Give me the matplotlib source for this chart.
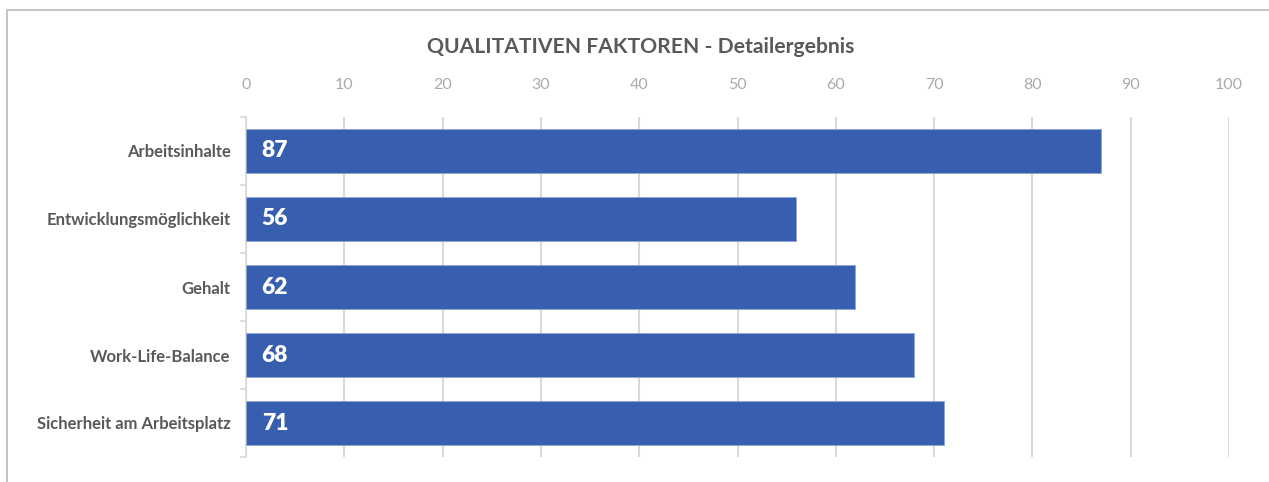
import matplotlib
matplotlib.use("Agg")
import matplotlib.pyplot as plt
from matplotlib.patches import Rectangle
import numpy as np

plt.rcParams['font.family'] = ['Lato', 'DejaVu Sans']

categories = ['Arbeitsinhalte', 'Entwicklungsmöglichkeit', 'Gehalt',
              'Work-Life-Balance', 'Sicherheit am Arbeitsplatz']
values = [87, 56, 62, 68, 71]
xticks = list(range(0, 101, 10))

bar_col = '#385EAF'
grey_txt = '#595959'

fig = plt.figure(figsize=(12.69, 4.82), dpi=100)
# rahmen oben/links
fig.patches.append(Rectangle((7 / 1269, -0.1), 1.2, 1.1 - 10 / 482,
                             transform=fig.transFigure, fill=False,
                             edgecolor='#BFBFBF', lw=1.3, zorder=0))

ax = fig.add_axes([246 / 1269, 1 - 457 / 482, (1229 - 246) / 1269, (457 - 117) / 482])

y = np.arange(len(categories))
ax.barh(y, values, height=0.66, color=bar_col, edgecolor='#8FA6D6', lw=0.6, zorder=3)
for yi, v in zip(y, values):
    ax.text(1.6, yi, str(v), color='white', fontsize=16.5, fontweight='heavy',
            va='center', ha='left', zorder=4)

ax.set_xlim(0, 100)
ax.set_ylim(len(categories) - 0.5, -0.5)
ax.set_xticks(xticks)
ax.xaxis.tick_top()
ax.tick_params(axis='x', length=0, labelsize=11.5, labelcolor='#AAAAAA', pad=18)
ax.set_yticks(y)
ax.set_yticklabels(categories, fontsize=12, fontweight='bold', color=grey_txt)
ax.tick_params(axis='y', which='major', length=0, pad=11)
ax.set_yticks(np.arange(-0.5, len(categories)), minor=True)
ax.tick_params(axis='y', which='minor', length=4, color='#D9D9D9', width=1.2)
ax.grid(axis='x', color='#D9D9D9', lw=1.5, zorder=0)
for s in ['top', 'right', 'bottom']:
    ax.spines[s].set_visible(False)
ax.spines['left'].set_color('#D9D9D9')
ax.spines['left'].set_linewidth(1.2)

fig.text(641 / 1269, 1 - 47 / 482, 'QUALITATIVEN FAKTOREN - Detailergebnis',
         ha='center', va='center', fontsize=15.2, fontweight='bold', color=grey_txt)

fig.savefig('out.png', dpi=100)
